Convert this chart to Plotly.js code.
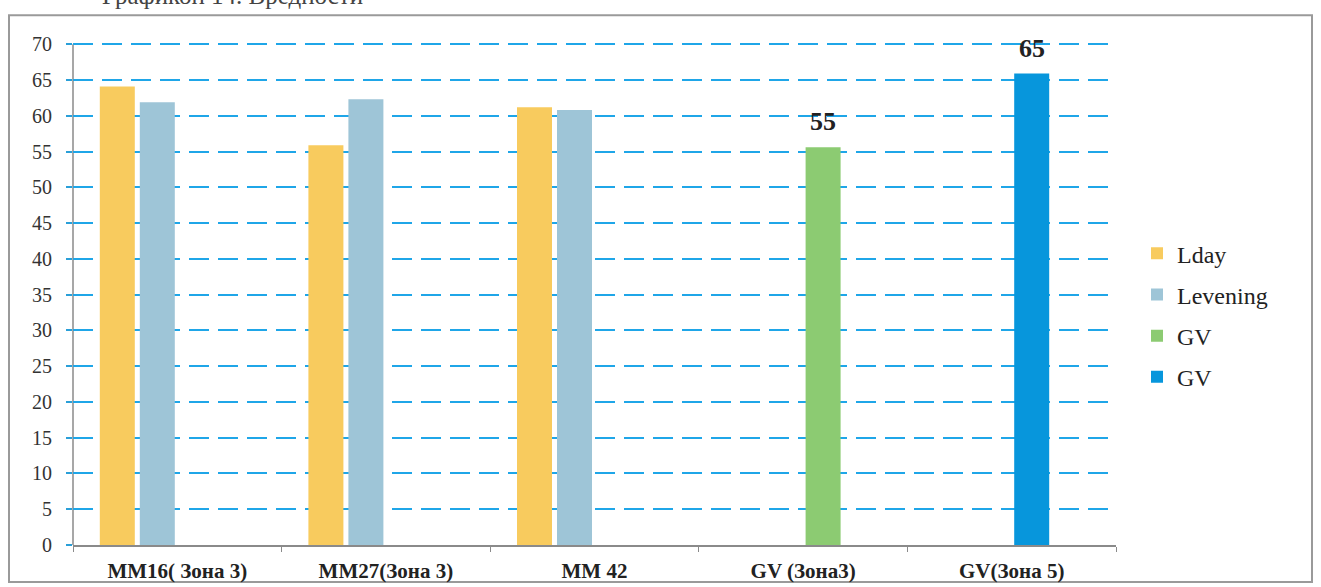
<!DOCTYPE html>
<html>
<head>
<meta charset="utf-8">
<script src="https://cdn.plot.ly/plotly-3.0.1.min.js"></script>
<style>
html,body{margin:0;padding:0;background:#fff;}
#chart{width:1321px;height:587px;}
</style>
</head>
<body>
<div id="chart"></div>
<script>
var categories = ["MM16( Зона 3)", "MM27(Зона 3)", "MM 42", "GV (Зона3)", "GV(Зона 5)"];
var lday = [64.1, 55.9, 61.2, null, null];
var levening = [61.9, 62.3, 60.8, null, null];
var gv = [null, null, 55.6, 65.9];
var gvLabels = ["", "", "55", "65"];
var gvBlue = [null, null, null, null, null];
var seriesNames = ["Lday", "Levening", "GV", "GV"];
var yTicks = [0, 5, 10, 15, 20, 25, 30, 35, 40, 45, 50, 55, 60, 65, 70];
var captionText = "Графикон 14. Вредности";

var serif = "Liberation Serif";
var cGreen = "#8ccb72", cBlue = "#0796dc";

var traces = [
  {type: "bar", name: seriesNames[0], legendgroup: "a", x: categories, y: lday, marker: {color: "#f8cb5e"}},
  {type: "bar", name: seriesNames[1], legendgroup: "b", x: categories, y: levening, marker: {color: "#9ec5d7"}},
  {type: "bar", name: seriesNames[2], legendgroup: "c", x: categories.slice(1), y: gv,
   marker: {color: [cGreen, cGreen, cGreen, cBlue]}},
  {type: "bar", name: seriesNames[3], legendgroup: "d", x: categories, y: gvBlue, marker: {color: cBlue}}
];

var L = 73, R = 1116, B = 545;
var yMax = 70.6, unit = (545 - 44) / 70;
var T = B - yMax * unit;
var pw = R - L, ph = B - T;
function px(x){return (x - L) / pw;}
function py(y){return (B - y) / ph;}

var bargap = 0.233, nSlots = traces.length;
var catW = pw / categories.length;
var slotShift = catW * (1 - bargap) * ((2 + 0.5) / nSlots - 0.5); // 3rd slot in the group

var annotations = [];
gv.forEach(function(v, i){
  if (v !== null && gvLabels[i]) {
    annotations.push({x: categories.slice(1)[i], y: v, xref: "x", yref: "y",
      text: gvLabels[i], showarrow: false, yanchor: "bottom", yshift: 9, xshift: slotShift,
      font: {family: serif, size: 26, color: "#222", weight: "bold"}});
  }
});
annotations.push({xref: "paper", yref: "paper", x: px(100), y: py(-5), xanchor: "left", yanchor: "middle",
  text: captionText, showarrow: false, font: {family: serif, size: 25, color: "#444"}});

var layout = {
  width: 1321, height: 587,
  font: {family: serif, color: "#222"},
  margin: {l: L, r: 1321 - R, t: T, b: 587 - B, pad: 0},
  paper_bgcolor: "#fff", plot_bgcolor: "#fff",
  barmode: "group", bargap: bargap, bargroupgap: 0.125,
  showlegend: true,
  legend: {x: px(1137), y: py(315), xanchor: "left", yanchor: "middle",
           font: {family: serif, size: 24, color: "#222"},
           tracegroupgap: 7, traceorder: "grouped", itemwidth: 30},
  xaxis: {type: "category", showline: true, linecolor: "#8a8a8a", linewidth: 1.5,
          ticks: "outside", tickson: "boundaries", ticklen: 5, tickcolor: "#8a8a8a",
          ticklabelstandoff: 6,
          tickfont: {family: serif, size: 21, color: "#222", weight: "bold"},
          showgrid: false, zeroline: false, fixedrange: true},
  yaxis: {range: [0, yMax], tickvals: yTicks, ticktext: yTicks.map(String),
          showline: false,
          ticks: "outside", ticklen: 6, tickwidth: 2, tickcolor: "#2a9fd8",
          ticklabelstandoff: 10,
          tickfont: {family: serif, size: 20, color: "#333"},
          showgrid: true, gridcolor: "#1fa6e8", gridwidth: 2, griddash: "20px,9px",
          zeroline: false, fixedrange: true},
  annotations: annotations,
  shapes: [
    {type: "rect", xref: "paper", yref: "paper",
     x0: px(9), x1: px(1312), y0: py(582), y1: py(15),
     line: {color: "#9a9a9a", width: 2}, layer: "below"},
    {type: "line", xref: "paper", yref: "y", x0: 0, x1: 0, y0: 0, y1: 70,
     line: {color: "#8a8a8a", width: 1.5}, layer: "below"}
  ]
};
Plotly.newPlot("chart", traces, layout, {displayModeBar: false, staticPlot: true});
</script>
</body>
</html>
